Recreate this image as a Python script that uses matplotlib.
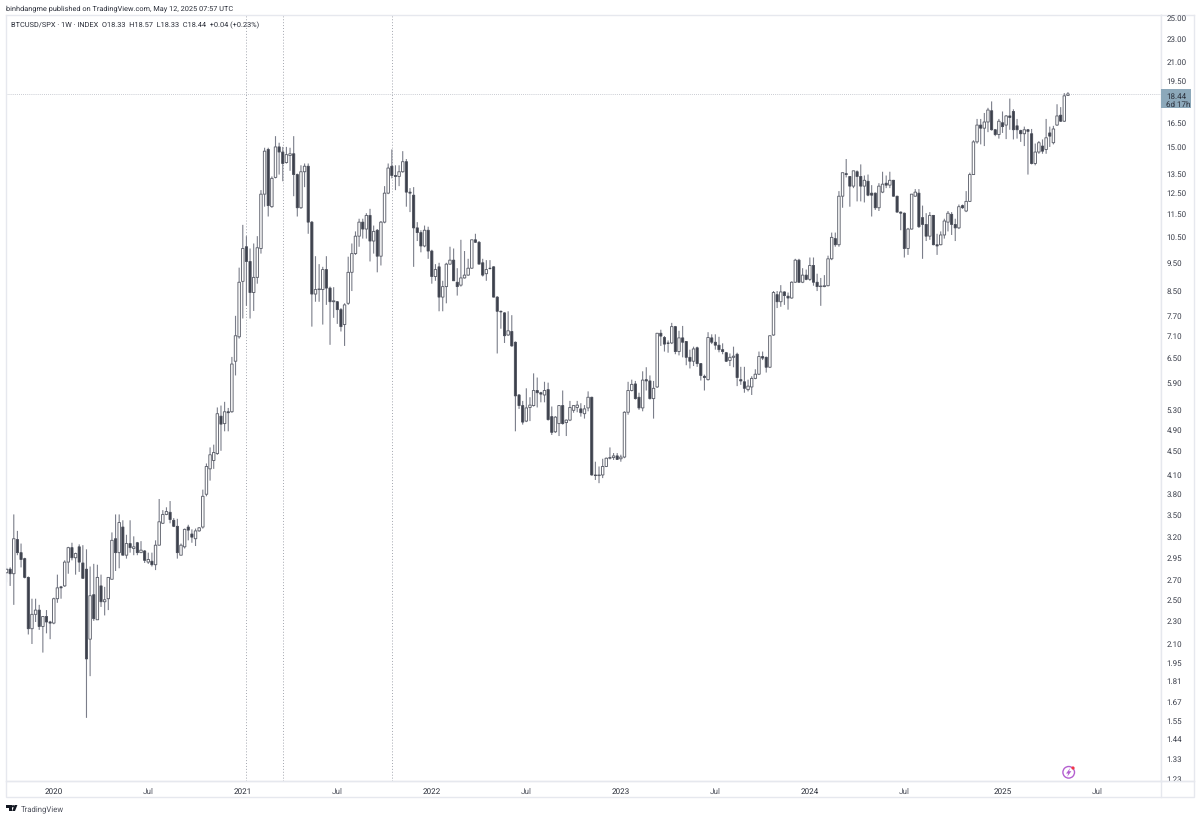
import matplotlib
matplotlib.use('Agg')
import matplotlib.pyplot as plt
import matplotlib.patches as mpatches
import numpy as np
import pandas as pd

plt.rcParams['font.family'] = ['Roboto', 'DejaVu Sans']
plt.rcParams['text.hinting'] = 'no_hinting'

# weekly BTCUSD/SPX candles
opens = [
    2.77, 2.81, 2.76, 3.16, 3.00, 2.93, 2.72, 2.22, 2.35, 2.39, 2.24, 2.33, 2.28, 2.27, 2.50, 2.62, 2.63, 2.89, 3.06, 2.94,
    3.07, 2.88, 2.81, 2.13, 2.54, 2.30, 2.63, 2.47, 2.50, 2.70, 3.17, 3.00, 3.32, 2.97, 3.11, 3.05, 3.12, 3.00, 3.02, 2.89,
    2.90, 2.86, 3.09, 3.37, 3.49, 3.52, 3.41, 3.33, 2.97, 3.07, 3.32, 3.23, 3.17, 3.27, 3.32, 3.78, 4.18, 4.32, 4.44, 5.15,
    5.00, 5.24, 5.24, 6.40, 7.05, 8.78, 10.07, 9.50, 8.40, 8.92, 10.00, 12.40, 14.80, 11.80, 13.25, 14.95, 14.65, 14.05, 14.45, 14.55,
    13.40, 11.75, 13.55, 13.85, 11.10, 8.35, 8.50, 8.50, 9.20, 8.55, 8.10, 8.10, 7.85, 7.40, 8.05, 9.10, 9.80, 10.50, 11.10, 10.80,
    11.40, 10.30, 10.75, 9.70, 11.10, 12.45, 13.85, 13.35, 13.30, 13.55, 14.10, 12.50, 12.35, 10.85, 10.65, 10.10, 10.75, 9.90, 8.95, 9.30,
    8.25, 8.60, 9.40, 9.55, 8.75, 8.65, 8.90, 9.00, 9.25, 10.35, 10.25, 9.45, 9.05, 9.25, 9.30, 8.25, 7.80, 7.75, 7.10, 7.20,
    6.90, 5.60, 5.37, 5.05, 5.33, 5.37, 5.70, 5.65, 5.60, 5.72, 5.14, 4.84, 5.00, 5.37, 5.02, 5.07, 5.27, 5.33, 5.30, 5.20,
    5.32, 5.55, 4.08, 4.07, 4.08, 4.22, 4.36, 4.37, 4.40, 4.35, 4.38, 5.23, 5.70, 5.85, 5.55, 5.32, 5.95, 5.92, 5.52, 5.78,
    7.15, 7.03, 6.88, 6.88, 7.34, 6.65, 7.02, 6.92, 6.50, 6.40, 6.75, 6.34, 6.03, 5.95, 7.02, 6.90, 6.82, 6.70, 6.62, 6.42,
    6.50, 6.58, 5.95, 5.90, 5.72, 5.78, 5.98, 6.08, 6.52, 6.50, 6.25, 7.10, 8.33, 8.10, 8.42, 8.28, 8.22, 8.75, 9.55, 8.75,
    9.00, 8.85, 9.35, 8.75, 8.60, 8.60, 8.63, 9.60, 10.40, 10.15, 12.30, 13.45, 13.30, 12.80, 13.55, 13.30, 12.80, 13.05, 12.45, 12.45,
    11.75, 12.50, 12.95, 12.85, 13.10, 12.30, 11.55, 11.50, 10.00, 10.80, 12.30, 12.45, 11.30, 11.00, 10.50, 11.40, 10.15, 10.15, 10.55, 11.10,
    11.45, 11.00, 10.85, 11.85, 11.60, 12.05, 13.40, 15.25, 16.30, 16.10, 16.50, 17.25, 16.00, 15.70, 16.45, 16.30, 16.90, 17.20, 16.25, 15.95,
    15.75, 16.00, 15.75, 14.00, 14.65, 15.00, 14.80, 15.80, 15.20, 16.30, 16.95, 16.55, 18.33,
]
highs = [
    2.83, 2.83, 3.49, 3.27, 3.11, 2.94, 2.73, 2.50, 2.50, 2.44, 2.33, 2.39, 2.29, 2.51, 2.75, 2.63, 2.91, 3.07, 3.12, 3.00,
    3.10, 3.09, 3.04, 2.84, 2.87, 2.86, 2.75, 2.62, 2.72, 3.25, 3.49, 3.49, 3.41, 3.22, 3.41, 3.20, 3.13, 3.14, 3.03, 3.00,
    3.00, 3.15, 3.71, 3.55, 3.59, 3.68, 3.44, 3.43, 3.11, 3.30, 3.35, 3.29, 3.30, 3.32, 3.85, 4.27, 4.55, 4.60, 5.33, 5.37,
    5.45, 5.32, 6.51, 7.66, 9.27, 10.98, 10.50, 10.00, 10.20, 10.50, 12.60, 14.90, 14.90, 13.30, 15.60, 15.20, 14.95, 14.95, 14.90, 15.60,
    13.45, 13.90, 14.00, 14.00, 11.15, 9.70, 9.40, 9.30, 9.70, 8.60, 8.58, 8.12, 7.90, 8.05, 9.68, 10.20, 10.70, 11.25, 11.25, 11.50,
    11.70, 10.95, 10.80, 11.15, 12.80, 14.00, 14.80, 13.90, 13.90, 14.70, 14.25, 12.70, 12.75, 11.10, 10.75, 10.95, 10.90, 9.95, 9.40, 9.45,
    8.80, 9.45, 10.07, 10.00, 9.25, 10.35, 9.90, 9.60, 10.35, 10.60, 10.30, 9.60, 9.55, 9.55, 9.32, 8.28, 7.82, 7.77, 7.80, 7.68,
    6.92, 5.62, 5.47, 5.75, 5.55, 6.10, 6.00, 5.67, 5.90, 5.88, 5.35, 5.15, 5.38, 5.70, 5.08, 5.47, 5.38, 5.47, 5.42, 5.38,
    5.68, 5.56, 4.30, 4.22, 4.35, 4.37, 4.55, 4.45, 4.45, 4.42, 5.25, 5.90, 5.95, 5.92, 5.65, 6.15, 6.25, 6.05, 5.92, 7.15,
    7.25, 7.07, 6.95, 7.45, 7.36, 7.22, 7.36, 6.93, 6.70, 6.78, 6.78, 6.35, 6.07, 7.18, 7.12, 7.12, 7.05, 6.87, 6.64, 6.60,
    6.78, 6.62, 6.26, 6.26, 5.95, 6.03, 6.20, 6.65, 6.65, 6.52, 7.08, 8.45, 8.45, 8.65, 8.44, 8.40, 8.78, 9.60, 9.60, 9.25,
    9.20, 9.65, 9.65, 9.05, 8.90, 9.00, 9.72, 10.65, 10.65, 12.55, 13.50, 14.25, 13.32, 13.60, 13.62, 13.95, 13.35, 13.40, 12.85, 12.48,
    12.95, 13.55, 13.35, 13.55, 13.12, 12.32, 11.58, 11.53, 10.85, 12.40, 12.65, 12.65, 11.85, 11.50, 11.55, 11.42, 10.60, 10.70, 11.25, 11.60,
    11.55, 11.25, 11.90, 11.90, 12.55, 13.50, 15.35, 16.70, 16.70, 17.10, 17.45, 17.90, 16.05, 16.70, 17.20, 16.95, 18.10, 17.35, 16.70, 16.00,
    16.20, 16.05, 16.05, 15.15, 15.30, 15.40, 16.70, 16.20, 16.25, 17.70, 17.50, 18.50, 18.57,
]
lows = [
    2.67, 2.63, 2.44, 2.97, 2.83, 2.71, 2.17, 2.09, 2.28, 2.21, 2.02, 2.18, 2.13, 2.26, 2.46, 2.50, 2.62, 2.76, 2.91, 2.75,
    2.78, 2.71, 1.56, 1.84, 2.29, 2.30, 2.42, 2.34, 2.39, 2.70, 2.79, 2.82, 2.97, 2.93, 3.00, 2.97, 2.97, 3.00, 2.88, 2.87,
    2.84, 2.80, 3.09, 3.36, 3.48, 3.37, 3.32, 2.93, 2.97, 3.05, 3.15, 3.12, 3.08, 3.26, 3.30, 3.75, 3.99, 4.18, 4.42, 4.49,
    4.85, 4.85, 5.22, 6.05, 7.00, 7.58, 7.97, 7.58, 7.81, 8.70, 9.80, 11.80, 11.35, 11.75, 13.20, 13.40, 13.05, 14.00, 13.60, 12.30,
    11.35, 11.70, 12.75, 10.60, 7.34, 8.10, 8.10, 7.40, 8.00, 6.83, 7.60, 7.42, 7.20, 6.80, 8.00, 8.45, 9.75, 10.07, 10.40, 10.40,
    9.50, 9.80, 9.10, 9.35, 11.05, 12.40, 13.20, 12.60, 12.80, 13.50, 11.80, 11.55, 9.30, 10.30, 9.85, 10.05, 9.60, 8.70, 8.80, 7.80,
    7.80, 8.05, 9.38, 8.80, 8.30, 8.60, 8.88, 8.98, 9.23, 10.22, 9.40, 8.95, 8.80, 9.20, 8.24, 6.60, 7.28, 6.88, 7.08, 6.78,
    4.85, 5.30, 4.98, 5.03, 5.05, 5.35, 5.33, 5.44, 5.44, 5.06, 4.78, 4.82, 4.76, 4.98, 4.76, 5.05, 5.22, 5.23, 5.14, 5.10,
    5.25, 4.07, 4.00, 3.95, 4.03, 4.21, 4.34, 4.33, 4.33, 4.30, 4.36, 5.18, 5.68, 5.50, 5.28, 5.25, 5.70, 5.50, 5.10, 5.76,
    6.80, 6.65, 6.62, 6.85, 6.58, 6.55, 6.50, 6.30, 6.22, 6.28, 6.26, 5.93, 5.70, 5.93, 6.85, 6.70, 6.63, 6.58, 6.38, 6.28,
    6.25, 5.80, 5.83, 5.65, 5.68, 5.60, 5.96, 6.06, 6.43, 6.12, 6.23, 7.08, 7.90, 7.94, 8.00, 7.85, 8.20, 8.73, 8.73, 8.72,
    8.82, 8.80, 8.63, 8.45, 7.97, 8.58, 8.61, 9.55, 10.07, 10.07, 11.75, 13.25, 11.80, 12.70, 12.05, 12.05, 12.00, 12.30, 11.35, 11.65,
    11.60, 12.45, 12.70, 12.70, 12.28, 11.53, 10.75, 9.65, 9.75, 10.78, 12.28, 10.85, 9.60, 10.30, 10.35, 10.13, 9.75, 10.13, 10.40, 10.70,
    10.55, 10.30, 10.80, 11.70, 11.55, 12.02, 13.38, 15.15, 15.10, 15.00, 15.85, 15.95, 15.60, 15.45, 15.80, 15.42, 16.00, 15.40, 15.45, 15.25,
    15.00, 13.40, 13.95, 13.90, 14.55, 14.55, 14.55, 14.95, 15.10, 16.25, 16.50, 16.50, 18.33,
]
closes = [
    2.81, 2.76, 3.17, 3.00, 2.92, 2.72, 2.22, 2.35, 2.39, 2.24, 2.33, 2.28, 2.27, 2.50, 2.61, 2.61, 2.89, 3.06, 2.94, 2.99,
    2.89, 2.71, 1.97, 2.53, 2.31, 2.72, 2.47, 2.49, 2.72, 3.15, 3.00, 3.38, 2.97, 3.11, 3.06, 3.07, 3.00, 3.03, 2.91, 2.92,
    2.86, 3.09, 3.39, 3.49, 3.53, 3.42, 3.33, 3.00, 3.09, 3.29, 3.28, 3.19, 3.27, 3.31, 3.75, 4.22, 4.42, 4.46, 5.20, 4.99,
    5.24, 5.22, 6.33, 7.08, 8.75, 10.00, 9.50, 8.40, 8.92, 10.03, 12.40, 14.70, 11.85, 13.20, 14.95, 14.65, 14.00, 14.50, 14.55, 13.40,
    11.75, 13.55, 13.85, 11.10, 8.35, 8.50, 8.52, 9.20, 8.55, 8.10, 8.13, 7.85, 7.34, 8.00, 9.10, 9.80, 10.50, 11.10, 10.80, 11.40,
    10.30, 10.70, 9.70, 11.10, 12.45, 13.75, 13.35, 13.30, 13.55, 14.10, 12.50, 12.45, 10.85, 10.65, 10.10, 10.75, 9.90, 8.95, 9.20, 8.25,
    8.60, 9.40, 9.55, 8.80, 8.60, 8.90, 9.00, 9.25, 10.35, 10.25, 9.40, 9.00, 9.20, 9.24, 8.25, 7.80, 7.78, 7.08, 7.22, 6.80,
    5.58, 5.37, 5.03, 5.32, 5.38, 5.70, 5.65, 5.62, 5.70, 5.08, 4.83, 5.13, 5.37, 5.00, 5.07, 5.33, 5.37, 5.38, 5.22, 5.30,
    5.55, 4.08, 4.07, 4.08, 4.22, 4.36, 4.37, 4.40, 4.34, 4.38, 5.23, 5.70, 5.84, 5.52, 5.32, 5.94, 5.92, 5.52, 5.75, 7.15,
    7.07, 6.85, 6.87, 7.34, 6.65, 7.02, 6.90, 6.50, 6.40, 6.72, 6.34, 6.05, 6.00, 7.03, 6.90, 6.82, 6.70, 6.65, 6.40, 6.50,
    6.53, 6.00, 5.92, 5.75, 5.80, 5.98, 6.08, 6.52, 6.48, 6.25, 7.08, 8.40, 8.10, 8.42, 8.30, 8.22, 8.75, 9.55, 8.75, 9.00,
    8.85, 9.35, 8.75, 8.60, 8.62, 8.63, 9.60, 10.45, 10.15, 12.30, 13.50, 13.40, 12.80, 13.60, 13.30, 12.80, 13.10, 12.35, 12.35, 11.75,
    12.80, 12.90, 12.85, 13.10, 12.30, 11.55, 11.50, 10.00, 10.80, 12.40, 12.50, 10.90, 11.00, 10.50, 11.40, 10.15, 10.10, 10.55, 11.15, 11.50,
    11.00, 10.85, 11.80, 11.75, 12.05, 13.40, 15.25, 16.30, 16.10, 16.50, 17.30, 16.00, 15.70, 16.55, 16.20, 16.90, 16.80, 16.00, 16.00, 15.75,
    16.00, 15.90, 14.00, 14.65, 15.20, 14.70, 15.50, 15.60, 16.05, 16.90, 16.55, 18.30, 18.44,
]

price_ticks = [25.00, 23.00, 21.00, 19.50, 16.50, 15.00, 13.50, 12.50, 11.50, 10.50, 9.50, 8.50, 7.70, 7.10, 6.50, 5.90, 5.30,
               4.90, 4.50, 4.10, 3.80, 3.50, 3.20, 2.95, 2.70, 2.50, 2.30, 2.10, 1.95, 1.81, 1.67, 1.55, 1.44, 1.33, 1.23]
time_ticks = ['2020-01-06', '2020-07-06', '2021-01-04', '2021-07-05', '2022-01-03', '2022-07-04',
              '2023-01-02', '2023-07-03', '2024-01-01', '2024-07-01', '2025-01-06', '2025-07-07']
time_labels = ['2020', 'Jul', '2021', 'Jul', '2022', 'Jul', '2023', 'Jul', '2024', 'Jul', '2025', 'Jul']
marked_weeks = ['2021-01-11', '2021-03-22', '2021-10-18']
last_price = 18.44

opens, highs, lows, closes = map(np.array, (opens, highs, lows, closes))
first_week = pd.Timestamp('2019-10-07')


def week_index(day):
    return (pd.Timestamp(day) - first_week).days / 7


W, H = 1200, 820
LEFT, RIGHT, TOP, BOTTOM, OUTER_R, OUTER_B = 6, 1161, 16, 782, 1194, 798
FRAME = '#e6e8ee'
TEXT = '#2a2e39'

fig = plt.figure(figsize=(W / 100, H / 100), dpi=100, facecolor='white')
ax = fig.add_axes([LEFT / W, 1 - BOTTOM / H, (RIGHT - LEFT) / W, (BOTTOM - TOP) / H])
ax.set_yscale('log')
ax.set_ylim(1.215, 25.2)
ax.set_xlim(-0.14, 317.6)

x = np.arange(len(closes))
up = closes >= opens
wicks = ax.vlines(x, lows, highs, color='#7b7e8a', linewidth=0.8, zorder=2)
wicks.set_snap(False)
up_bars = ax.bar(x[up], (closes - opens)[up], bottom=opens[up], width=0.68, facecolor='white',
                 edgecolor='#5d606b', linewidth=0.65, zorder=3)
down_bars = ax.bar(x[~up], (opens - closes)[~up], bottom=closes[~up], width=0.6, facecolor='#3c404b',
                   edgecolor='#4a4e5a', linewidth=0.6, zorder=3)
for bar in list(up_bars) + list(down_bars):
    bar.set_snap(False)

for day in marked_weeks:
    ax.axvline(week_index(day), color='#a3a6af', linewidth=0.7, linestyle=(0, (1, 2)), zorder=1)
ax.axhline(last_price, color='#b8bbc4', linewidth=0.6, linestyle=(0, (1, 1.5)), zorder=1)

ax.set_yticks([])
ax.yaxis.set_minor_locator(matplotlib.ticker.NullLocator())
ax.set_xticks([week_index(d) for d in time_ticks])
ax.set_xticklabels(time_labels, fontsize=5.9, color=TEXT)
for lab in ax.get_xticklabels():
    if lab.get_text() == 'Jul':
        lab.set_color('#50535e')
ax.tick_params(axis='x', length=0, pad=4)
for spine in ax.spines.values():
    spine.set_color(FRAME)
    spine.set_linewidth(1)

# price scale, labels cut at the pane edge like the original
price_ax = fig.add_axes([RIGHT / W, 1 - BOTTOM / H, (OUTER_R - RIGHT) / W, (BOTTOM - TOP) / H])
price_ax.set_yscale('log')
price_ax.set_ylim(ax.get_ylim())
price_ax.set_xlim(0, 1)
price_ax.set_xticks([])
price_ax.set_yticks([])
price_ax.yaxis.set_minor_locator(matplotlib.ticker.NullLocator())
for spine in price_ax.spines.values():
    spine.set_color(FRAME)
    spine.set_linewidth(1)
for p in price_ticks:
    price_ax.text(0.17, p, '%.2f' % p, fontsize=5.8, color='#3a3e4a', ha='left', va='center_baseline', clip_on=True)

# overlay in pixel coordinates for the branding and the price tag
over = fig.add_axes([0, 0, 1, 1], facecolor='none')
over.set_xlim(0, W)
over.set_ylim(H, 0)
over.axis('off')

over.add_patch(mpatches.Rectangle((RIGHT, 90), 30, 18.5, facecolor='#8ca8ba', edgecolor='none', zorder=5))
over.text(1166.5, 95.5, '%.2f' % last_price, fontsize=5.8, color=TEXT, va='center_baseline', zorder=6)
over.text(1166.5, 104, '6d 17h', fontsize=5.8, color=TEXT, va='center_baseline', zorder=6)

over.add_patch(mpatches.Rectangle((LEFT, BOTTOM), OUTER_R - LEFT, OUTER_B - BOTTOM, facecolor='none', edgecolor=FRAME, linewidth=1))
over.plot([RIGHT, RIGHT], [BOTTOM, OUTER_B], color=FRAME, linewidth=1)

over.text(6, 9, 'binhdangme published on TradingView.com, May 12, 2025 07:57 UTC', fontsize=5.3, color=TEXT, va='center')
over.text(11, 25, 'BTCUSD/SPX · 1W · INDEX  O18.33  H18.57  L18.33  C18.44  +0.04 (+0.23%)', fontsize=5.3, color=TEXT, va='center')

# TradingView mark
over.add_patch(mpatches.Polygon([(6, 806), (11.6, 806), (11.6, 812), (9, 812), (9, 808.6), (6, 808.6)], facecolor='#131722', edgecolor='none'))
over.add_patch(mpatches.Circle((13.1, 807.3), 1.2, facecolor='#131722', edgecolor='none'))
over.add_patch(mpatches.Polygon([(14.6, 806), (17.4, 806), (15, 812), (12.2, 812)], facecolor='#131722', edgecolor='none'))
over.text(20.5, 809, 'TradingView', fontsize=5.6, color='#50535e', va='center')

# snapshot bolt icon
over.add_patch(mpatches.Circle((1068.7, 773.3), 5.8, facecolor='white', edgecolor='#b45fd0', linewidth=1.0))
over.add_patch(mpatches.Polygon([(1070.2, 769), (1066, 774.5), (1068.2, 774.5), (1067.2, 777.8), (1071.4, 772.2), (1069.1, 772.2)],
                                facecolor='#b45fd0', edgecolor='none'))
over.add_patch(mpatches.Circle((1073, 769), 1.6, facecolor='#f23645', edgecolor='none'))

fig.savefig('out.png', dpi=100)
